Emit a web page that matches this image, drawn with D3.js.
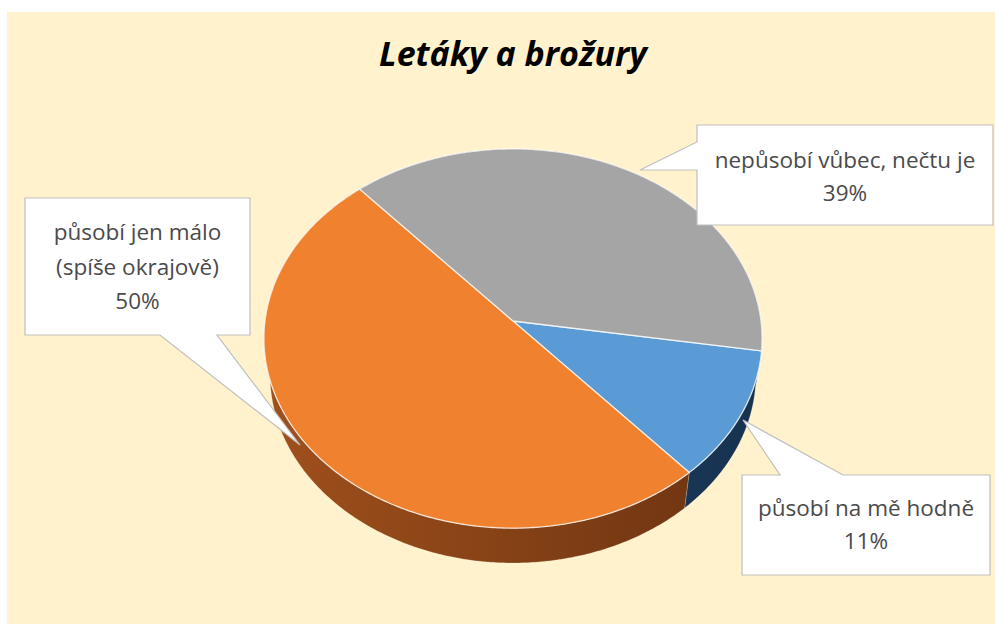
<!DOCTYPE html>
<html>
<head>
<meta charset="utf-8">
<script src="https://cdn.jsdelivr.net/npm/d3@7/dist/d3.min.js"></script>
<style>
  html, body { margin: 0; padding: 0; background: #ffffff; }
  svg { display: block; }
</style>
</head>
<body>
<svg id="chart" width="995" height="624"></svg>
<script>
// ---- data ----
const title = "Letáky a brožury";
const categories = ["působí na mě hodně", "působí jen málo\n(spíše okrajově)", "nepůsobí vůbec, nečtu je"];
const values = [11, 50, 39];
const topColors = ["#5b9bd5", "#f0812f", "#a5a5a5"];
const sideColors = [["#24496f", "#16324f"], ["#a0501c", "#6a3210"], ["#7a7a7a", "#5e5e5e"]];

// ---- layout ----
const W = 995, H = 624;
const svg = d3.select("#chart");

svg.append("rect").attr("x", 7).attr("y", 12).attr("width", W - 7).attr("height", H - 12)
  .attr("fill", "#fff2cc");

svg.append("text")
  .attr("x", 513).attr("y", 66)
  .attr("text-anchor", "middle")
  .attr("font-family", "'Open Sans', sans-serif")
  .attr("font-weight", 700).attr("font-style", "italic")
  .attr("font-size", 34)
  .attr("fill", "#000")
  .text(title);

// ---- 3D pie projection (perspective camera tilted over the pie plane) ----
const cx = 513, cy = 321;
const tilt = 49.3 * Math.PI / 180;
const camDist = 7.06;          // in pie radii
const focal = 248 * camDist;   // px
const thickness = 0.233;       // in pie radii

function project(theta, r, z) {
  const x = r * Math.sin(theta);
  const yd = -r * Math.cos(theta);          // positive toward viewer
  const depth = camDist - yd * Math.cos(tilt) - z * Math.sin(tilt);
  return [cx + focal * x / depth, cy + focal * (yd * Math.sin(tilt) - z * Math.cos(tilt)) / depth];
}

const firstAngle = 99 * Math.PI / 180;
const pie = d3.pie().sort(null).startAngle(firstAngle).endAngle(firstAngle + 2 * Math.PI);
const arcs = pie(values).map((d, i) => ({ ...d, i }));

function arcPoints(a0, a1, z) {
  const n = Math.max(2, Math.ceil((a1 - a0) / 0.01));
  return d3.range(n + 1).map(k => project(a0 + (a1 - a0) * k / n, 1, z));
}

const line = d3.line();
const defs = svg.append("defs");

arcs.forEach(d => {
  const g = defs.append("linearGradient").attr("id", "side" + d.i)
    .attr("gradientUnits", "userSpaceOnUse")
    .attr("x1", cx - 250).attr("y1", 0).attr("x2", cx + 250).attr("y2", 0);
  g.append("stop").attr("offset", "0%").attr("stop-color", sideColors[d.i][0]);
  g.append("stop").attr("offset", "100%").attr("stop-color", sideColors[d.i][1]);
});

// outer walls, drawn from the back of the pie toward the viewer
const walls = arcs.slice().sort((a, b) =>
  Math.cos((b.startAngle + b.endAngle) / 2) - Math.cos((a.startAngle + a.endAngle) / 2));
svg.append("g").selectAll("path").data(walls).join("path")
  .attr("d", d => {
    const top = arcPoints(d.startAngle, d.endAngle, 0);
    const bot = arcPoints(d.startAngle, d.endAngle, -thickness).reverse();
    return line(top.concat(bot)) + "Z";
  })
  .attr("fill", d => `url(#side${d.i})`)
  .attr("stroke", "rgba(255,255,255,0.25)")
  .attr("stroke-width", 0.8);

// top faces
svg.append("g").selectAll("path").data(arcs).join("path")
  .attr("d", d => line([project(0, 0, 0)].concat(arcPoints(d.startAngle, d.endAngle, 0))) + "Z")
  .attr("fill", d => topColors[d.i])
  .attr("stroke", "rgba(255,255,255,0.75)")
  .attr("stroke-width", 1.3)
  .attr("stroke-linejoin", "round");

// ---- callout labels ----
const callouts = [
  { box: [742, 475, 248, 100], side: "top", base: [38, 101], tip: [743, 420], lines: [516, 549] },
  { box: [25, 198, 225, 137], side: "bottom", base: [135, 192], tip: [300, 445], lines: [240, 275, 309] },
  { box: [697, 125, 296, 100], side: "left", base: [17, 45], tip: [640, 170], lines: [168, 201] }
];

function calloutPath(c) {
  const [x, y, w, h] = c.box, [b1, b2] = c.base, [tx, ty] = c.tip;
  let p;
  if (c.side === "top") {
    p = [[x, y], [x + b1, y], [tx, ty], [x + b2, y], [x + w, y], [x + w, y + h], [x, y + h]];
  } else if (c.side === "bottom") {
    p = [[x, y], [x + w, y], [x + w, y + h], [x + b2, y + h], [tx, ty], [x + b1, y + h], [x, y + h]];
  } else {
    p = [[x, y], [x + w, y], [x + w, y + h], [x, y + h], [x, y + b2], [tx, ty], [x, y + b1]];
  }
  return line(p) + "Z";
}

const lab = svg.append("g").selectAll("g").data(arcs).join("g");
lab.append("path")
  .attr("d", d => calloutPath(callouts[d.i]))
  .attr("fill", "#ffffff")
  .attr("stroke", "#bfbfbf")
  .attr("stroke-width", 1.2);

lab.each(function (d) {
  const c = callouts[d.i];
  const rows = categories[d.i].split("\n").concat([`${d.value}%`]);
  d3.select(this).selectAll("text").data(rows).join("text")
    .attr("x", c.box[0] + c.box[2] / 2)
    .attr("y", (r, k) => c.lines[k])
    .attr("text-anchor", "middle")
    .attr("font-family", "'Open Sans', sans-serif")
    .attr("font-size", 22.5)
    .attr("fill", "#4a4a4a")
    .text(r => r);
});
</script>
</body>
</html>
